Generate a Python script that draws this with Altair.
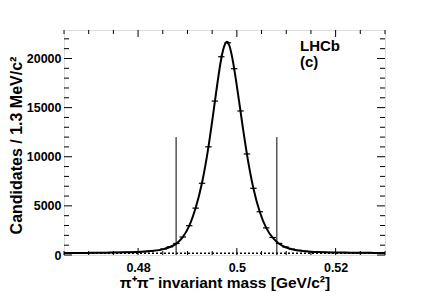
import altair as alt
import pandas as pd

# ---- data ----
bin_lo = 0.465
bin_w = 0.0013
n_bins = 50
counts = [220, 230, 220, 240, 230, 250, 250, 260, 270, 280,
          290, 320, 340, 380, 460, 620, 830, 1170, 1830, 2980,
          4770, 7300, 11010, 15670, 20180, 21600, 18960, 14660, 10280, 6790,
          4400, 2760, 1780, 1180, 820, 600, 470, 390, 340, 300,
          280, 260, 250, 240, 230, 230, 220, 220, 210, 210]
fit_vals = [200, 205, 210, 215, 220, 228, 236, 246, 258, 272,
            290, 315, 350, 400, 470, 600, 810, 1160, 1820, 2960,
            4780, 7350, 11000, 15600, 20000, 21650, 19000, 14600, 10250, 6800,
            4380, 2760, 1760, 1150, 790, 580, 450, 380, 330, 300,
            280, 265, 255, 245, 238, 230, 225, 220, 215, 210]
fit_edge_x = [0.465, 0.530]
fit_edge_y = [198, 208]
bkg_x = [0.465, 0.530]
bkg_y = [190, 190]
cut_x = [0.4877, 0.5081]
cut_top = 12000
x_major = [0.48, 0.5, 0.52]
x_minor = [0.465, 0.47, 0.475, 0.485, 0.49, 0.495, 0.505, 0.51, 0.515, 0.525, 0.53]
y_major = [0, 5000, 10000, 15000, 20000]
y_minor = [1000, 2000, 3000, 4000, 6000, 7000, 8000, 9000, 11000, 12000, 13000, 14000,
           16000, 17000, 18000, 19000, 21000, 22000]

centers = [bin_lo + bin_w * (i + 0.5) for i in range(n_bins)]
data = pd.DataFrame({"m": centers, "n": counts})
fit = pd.DataFrame({"m": [fit_edge_x[0]] + centers + [fit_edge_x[1]],
                    "f": [fit_edge_y[0]] + fit_vals + [fit_edge_y[1]]})
bkg = pd.DataFrame({"m": bkg_x, "b": bkg_y})
cuts = pd.DataFrame({"m": cut_x, "lo": [0, 0], "hi": [cut_top, cut_top]})

W, H = 321, 225
FONT = "Liberation Sans"
xs = alt.Scale(domain=[0.465, 0.530], nice=False, zero=False)
ys = alt.Scale(domain=[0, 22900], nice=False)

base_x = alt.X("m:Q", scale=xs,
               axis=alt.Axis(values=x_major, format=".2~f", ticks=False, domain=False, grid=False,
                             labelFont=FONT, labelFontWeight="bold", labelFontSize=12.5,
                             labelColor="black", labelPadding=6,
                             title="π⁺π⁻ invariant mass [GeV/c²]", titleFont=FONT,
                             titleFontWeight="bold", titleFontSize=15.5, titleColor="black",
                             titlePadding=2))

curve = alt.Chart(fit).mark_line(color="black", strokeWidth=2, interpolate="natural", clip=True).encode(
    x=base_x,
    y=alt.Y("f:Q", scale=ys,
            axis=alt.Axis(values=y_major, format="d", ticks=False, domain=False, grid=False,
                          labelFont=FONT, labelFontWeight="bold", labelFontSize=12.5,
                          labelColor="black", labelPadding=3,
                          title="Candidates / 1.3 MeV/c²", titleFont=FONT,
                          titleFontWeight="bold", titleFontSize=16, titleColor="black",
                          titlePadding=2, titleY=115)))

bkg_line = alt.Chart(bkg).mark_line(color="black", strokeWidth=1.5, strokeDash=[2, 2]).encode(
    x=alt.X("m:Q", scale=xs), y=alt.Y("b:Q", scale=ys))

hbar = alt.Chart(data).transform_calculate(
    lo=f"datum.m - {bin_w / 2}", hi=f"datum.m + {bin_w / 2}"
).mark_rule(color="black", strokeWidth=1.2).encode(
    x=alt.X("lo:Q", scale=xs), x2="hi:Q", y=alt.Y("n:Q", scale=ys))

vbar = alt.Chart(data).transform_calculate(
    elo="datum.n - sqrt(datum.n)", ehi="datum.n + sqrt(datum.n)"
).mark_rule(color="black", strokeWidth=1.2).encode(
    x=alt.X("m:Q", scale=xs), y=alt.Y("elo:Q", scale=ys), y2="ehi:Q")

cut_lines = alt.Chart(cuts).mark_rule(color="black", strokeWidth=1).encode(
    x=alt.X("m:Q", scale=xs), y=alt.Y("lo:Q", scale=ys), y2="hi:Q")

# inward ticks on all four sides
xt_major = pd.DataFrame({"v": x_major})
xt_minor = pd.DataFrame({"v": x_minor})
yt_major = pd.DataFrame({"v": y_major})
yt_minor = pd.DataFrame({"v": y_minor})

def xticks(df, length):
    b = alt.Chart(df).mark_rule(color="black", strokeWidth=1)
    return (b.encode(x=alt.X("v:Q", scale=xs), y=alt.value(H), y2=alt.value(H - length)) +
            b.encode(x=alt.X("v:Q", scale=xs), y=alt.value(0), y2=alt.value(length)))

def yticks(df, length):
    b = alt.Chart(df).mark_rule(color="black", strokeWidth=1)
    return (b.encode(y=alt.Y("v:Q", scale=ys), x=alt.value(0), x2=alt.value(length)) +
            b.encode(y=alt.Y("v:Q", scale=ys), x=alt.value(W), x2=alt.value(W - length)))

txt = dict(font=FONT, fontWeight="bold", fontSize=15, color="black", align="left", baseline="alphabetic")
lhcb = alt.Chart(pd.DataFrame({"t": ["LHCb"]})).mark_text(**txt).encode(
    x=alt.value(236), y=alt.value(21), text="t:N")
tag = alt.Chart(pd.DataFrame({"t": ["(c)"]})).mark_text(**txt).encode(
    x=alt.value(236), y=alt.value(37), text="t:N")

chart = alt.layer(
    curve, bkg_line, cut_lines, hbar, vbar,
    xticks(xt_major, 7), xticks(xt_minor, 4), yticks(yt_major, 8), yticks(yt_minor, 5),
    lhcb, tag
).properties(
    width=W, height=H,
    padding={"left": 56, "top": 22, "right": 34, "bottom": 38},
    autosize=alt.AutoSizeParams(type="none")
).configure_view(stroke="black", strokeWidth=1.5).configure(background="white")

chart.save("out.html", embed_options={"renderer": "svg", "actions": False})
